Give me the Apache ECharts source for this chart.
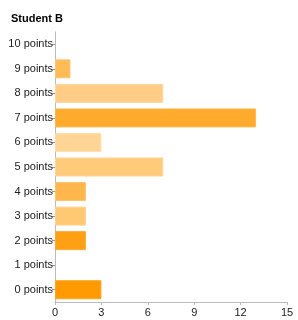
<!DOCTYPE html>
<html><head><meta charset="utf-8">
<script src="https://cdn.jsdelivr.net/npm/echarts@6/dist/echarts.min.js"></script>
<style>html,body{margin:0;padding:0;background:#fff}#c{width:298px;height:320px}</style>
</head><body><div id="c"></div>
<script>
const title = "Student B";
const categories = ["0 points","1 points","2 points","3 points","4 points","5 points","6 points","7 points","8 points","9 points","10 points"];
const values = [3,0,2,2,2,7,3,13,7,1,0];
const colors = ["#ff9900","#ffb84f","#ff9f14","#ffc873","#ffb74d","#ffca7a","#ffd596","#ffab2e","#ffcd85","#ffbb55","#ffcc80"];
const borders = ["#ffa41f","#ffc670","#ffab33","#ffd394","#ffc56e","#ffd59a","#ffdfb0","#ffb94f","#ffd7a2","#ffc774","#ffd9a0"];
const xTicks = [0,3,6,9,12,15];

const chart = echarts.init(document.getElementById('c'), null, {renderer:'canvas'});
chart.setOption({
  animation:false,
  title:{text:title,left:11,top:13,padding:0,textStyle:{fontFamily:'Liberation Sans, Arial',fontSize:11,fontWeight:'bold',color:'#000'}},
  grid:{left:55,right:11,top:32,bottom:18,containLabel:false},
  xAxis:{type:'value',min:xTicks[0],max:xTicks[xTicks.length-1],interval:3,
    axisLine:{show:true,lineStyle:{color:'#bbb',width:1}},
    axisTick:{show:true,length:3,lineStyle:{color:'#bbb'}},
    splitLine:{show:false},
    axisLabel:{fontFamily:'Liberation Sans, Arial',fontSize:11,color:'#222',margin:5}},
  yAxis:{type:'category',data:categories,
    axisLine:{show:true,lineStyle:{color:'#bbb',width:1}},
    axisTick:{show:true,alignWithLabel:true,length:3,lineStyle:{color:'#999'}},
    axisLabel:{fontFamily:'Liberation Sans, Arial',fontSize:11,color:'#222',margin:2}},
  series:[{type:'bar',barWidth:19,
    data:values.map((v,i)=>({value:v,itemStyle:{color:colors[i],borderColor:borders[i],borderWidth:v>0?1:0}}))}]
});
</script></body></html>
